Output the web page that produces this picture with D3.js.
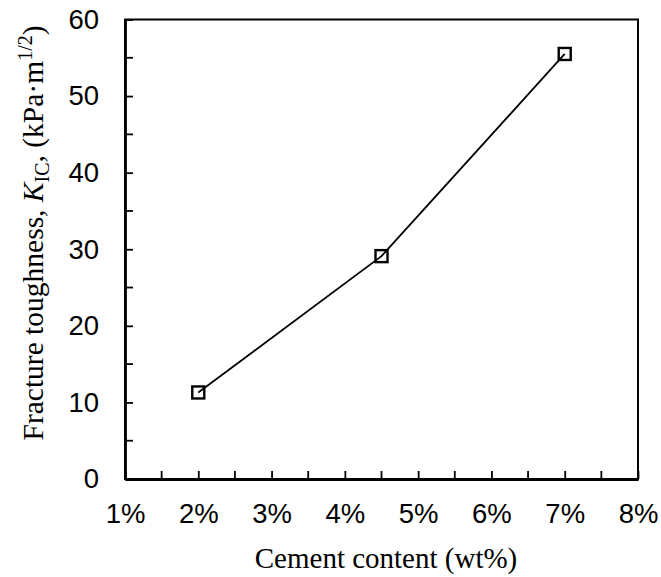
<!DOCTYPE html>
<html>
<head>
<meta charset="utf-8">
<script src="https://cdn.jsdelivr.net/npm/d3@7"></script>
<style>
  html, body { margin: 0; padding: 0; background: #fff; }
  svg { display: block; }
</style>
</head>
<body>
<svg id="chart" width="661" height="577"></svg>
<script>
// Cement content (fraction) and measured fracture toughness K_IC (kPa·m^1/2)
const cementContent = [0.02, 0.045, 0.07];
const toughness = [11.3, 29.1, 55.5];

const xTicks = [0.01, 0.02, 0.03, 0.04, 0.05, 0.06, 0.07, 0.08];
const xMinorTicks = [0.015, 0.025, 0.035, 0.045, 0.055, 0.065, 0.075];
const yTicks = [0, 10, 20, 30, 40, 50, 60];
const yMinorTicks = [5, 15, 25, 35, 45, 55];

const svg = d3.select("#chart");
const plotLeft = 125, plotRight = 638, plotTop = 19.5, plotBottom = 479;

const x = d3.scaleLinear().domain([0.01, 0.08]).range([plotLeft, plotRight]);
const y = d3.scaleLinear().domain([0, 60]).range([plotBottom, plotTop]);

const tickFont = "Liberation Sans, Arial, sans-serif";
const titleFont = "Liberation Serif, Times New Roman, serif";

// frame
svg.append("rect")
  .attr("x", plotLeft).attr("y", plotTop)
  .attr("width", plotRight - plotLeft).attr("height", plotBottom - plotTop)
  .attr("fill", "none").attr("stroke", "#000").attr("stroke-width", 2);

// x axis: inward ticks, labels below
const xAxis = svg.append("g").attr("transform", `translate(0,${plotBottom})`)
  .call(d3.axisBottom(x).tickValues(xTicks).tickSizeInner(-8).tickSizeOuter(0)
        .tickPadding(24).tickFormat(d3.format(".0%")));
xAxis.append("g").selectAll("line").data(xMinorTicks).join("line")
  .attr("x1", d => x(d)).attr("x2", d => x(d)).attr("y1", 0).attr("y2", -8)
  .attr("stroke", "#000").attr("stroke-width", 1.8);

// y axis: inward ticks, labels left
const yAxis = svg.append("g").attr("transform", `translate(${plotLeft},0)`)
  .call(d3.axisLeft(y).tickValues(yTicks).tickSizeInner(-8).tickSizeOuter(0)
        .tickPadding(26));
yAxis.append("g").selectAll("line").data(yMinorTicks).join("line")
  .attr("x1", 0).attr("x2", 8).attr("y1", d => y(d)).attr("y2", d => y(d))
  .attr("stroke", "#000").attr("stroke-width", 1.8);

[xAxis, yAxis].forEach(g => {
  g.select(".domain").attr("stroke", "#000").attr("stroke-width", 2.8);
  g.selectAll(".tick line").attr("stroke", "#000").attr("stroke-width", 1.8);
  g.selectAll(".tick text").attr("fill", "#000")
    .style("font-family", tickFont).style("font-size", "27.5px");
});
xAxis.selectAll(".tick text").attr("dy", "0.71em");

// data line
const line = d3.line().x((d, i) => x(cementContent[i])).y(d => y(d));
svg.append("path").datum(toughness)
  .attr("d", line).attr("fill", "none")
  .attr("stroke", "#000").attr("stroke-width", 1.8);

// square markers
const ms = 12;
svg.append("g").selectAll("rect").data(toughness).join("rect")
  .attr("x", (d, i) => x(cementContent[i]) - ms / 2)
  .attr("y", d => y(d) - ms / 2)
  .attr("width", ms).attr("height", ms)
  .attr("fill", "none").attr("stroke", "#000").attr("stroke-width", 2.4);

// x title
svg.append("text")
  .attr("x", 386).attr("y", 568)
  .attr("text-anchor", "middle")
  .style("font-family", titleFont).style("font-size", "29px")
  .text("Cement content (wt%)");

// y title with italic K, subscript IC and superscript 1/2
const yt = svg.append("text")
  .attr("transform", `translate(43,233) rotate(-90)`)
  .attr("text-anchor", "middle")
  .style("font-family", titleFont).style("font-size", "29.5px");
yt.append("tspan").text("Fracture toughness, ");
yt.append("tspan").style("font-style", "italic").text("K");
yt.append("tspan").attr("dy", 6).style("font-size", "20px").text("IC");
yt.append("tspan").attr("dy", -6).text(", (kPa·m");
yt.append("tspan").attr("dy", -11).style("font-size", "20px").text("1/2");
yt.append("tspan").attr("dy", 11).text(")");
</script>
</body>
</html>
